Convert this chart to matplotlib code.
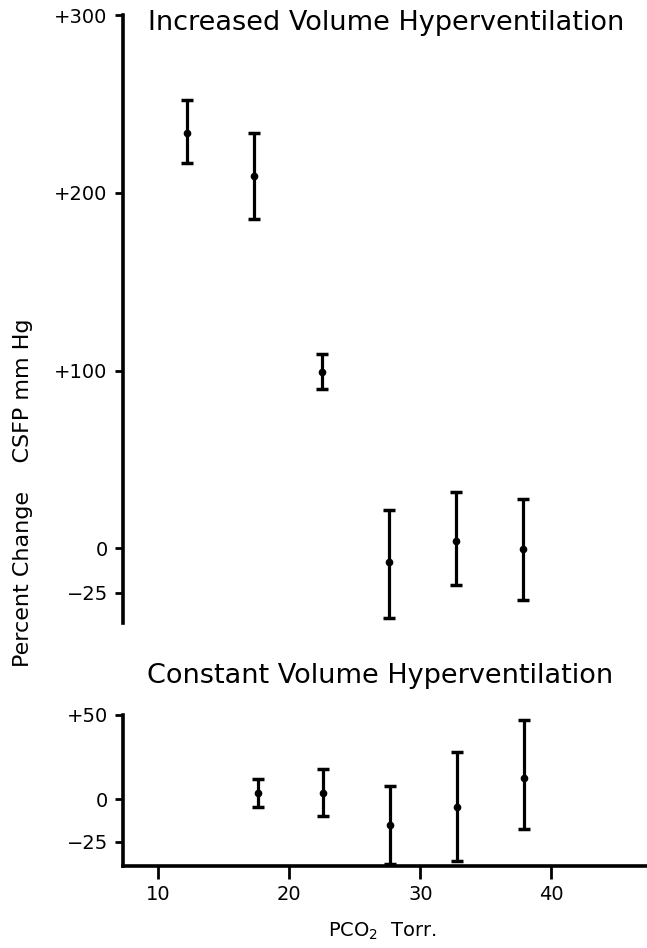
import matplotlib.pyplot as plt

# Increased volume hyperventilation (upper panel)
inc_pco2 = [12.2, 17.3, 22.5, 27.6, 32.7, 37.8]
inc_mean = [233.6, 209.3, 99.2, -7.7, 4.1, -0.2]
inc_high = [252.3, 233.6, 109.5, 21.8, 31.7, 27.6]
inc_low = [216.8, 185.5, 89.7, -39.2, -20.8, -29.3]

# Constant volume hyperventilation (lower panel)
con_pco2 = [17.6, 22.6, 27.7, 32.8, 37.9]
con_mean = [3.6, 3.6, -15.2, -4.7, 12.8]
con_high = [12.0, 18.0, 7.9, 27.9, 47.0]
con_low = [-4.7, -9.7, -38.4, -36.4, -17.6]

inc_yticks = [300, 200, 100, 0, -25]
inc_ylabels = ["+300", "+200", "+100", "0", "\u221225"]
con_yticks = [50, 0, -25]
con_ylabels = ["+50", "0", "\u221225"]
xticks = [10, 20, 30, 40]

plt.rcParams['font.family'] = ['DejaVu Sans']

W, H = 647, 948
fig = plt.figure(figsize=(W / 100, H / 100), dpi=100)

left = 123 / W
ax1 = fig.add_axes([left, 1 - 623 / H, 1 - left, (623 - 15) / H])
ax2 = fig.add_axes([left, 1 - 866 / H, 1 - left, (866 - 715) / H])


def draw(ax, x, mean, high, low):
    yerr = [[m - l for m, l in zip(mean, low)], [h - m for m, h in zip(mean, high)]]
    ax.errorbar(x, mean, yerr=yerr, fmt='o', color='black', ms=4.5,
                elinewidth=2.3, capsize=4, capthick=2.5)
    for s in ['top', 'right']:
        ax.spines[s].set_visible(False)
    ax.spines['left'].set_linewidth(2.6)
    ax.spines['bottom'].set_linewidth(2.6)
    ax.set_xlim(7.31, 47.3)


draw(ax1, inc_pco2, inc_mean, inc_high, inc_low)
ax1.set_ylim(-42, 300)
ax1.spines['bottom'].set_visible(False)
ax1.set_xticks([])
ax1.set_yticks(inc_yticks)
ax1.set_yticklabels(inc_ylabels)
ax1.tick_params(axis='y', length=6, width=2, pad=5, labelsize=14)

draw(ax2, con_pco2, con_mean, con_high, con_low)
ax2.set_ylim(-39.4, 50)
ax2.set_yticks(con_yticks)
ax2.set_yticklabels(con_ylabels)
ax2.set_xticks(xticks)
ax2.tick_params(axis='y', length=6, width=2, pad=5, labelsize=14)
ax2.tick_params(axis='x', length=9, width=2, pad=5, labelsize=14)

fig.text(148 / W, 1 - 30 / H, "Increased Volume Hyperventilation",
         fontsize=19.5, ha='left', va='baseline')
fig.text(147 / W, 1 - 683 / H, "Constant Volume Hyperventilation",
         fontsize=19.5, ha='left', va='baseline')
fig.text(328 / W, 1 - 937 / H, "PCO$_2$  Torr.", fontsize=14,
         ha='left', va='baseline')
fig.text(23 / W, 1 - 493 / H, "Percent Change    CSFP mm Hg", rotation=90,
         fontsize=16, ha='center', va='center')

fig.savefig("out.png", dpi=100)
